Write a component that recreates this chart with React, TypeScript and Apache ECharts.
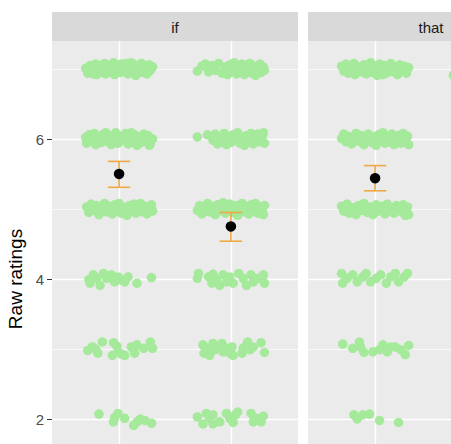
import React, { useEffect, useRef } from "react";
import * as echarts from "echarts";

// ---------- data ----------
const facetNames = ["if", "that"];
const yTickValues = [2, 4, 6];
const majorGridY = [2, 4, 6];
const minorGridY = [1, 3, 5, 7];
const categoryX = [1, 2];

// jittered raw ratings: [rating, [[xOffset, yOffset], ...]]
const ifFirstJitter: [number, number[][]][] = [
  [7, [[-0.30,0.01],[-0.28,-0.06],[-0.26,0.05],[-0.24,-0.02],[-0.21,0.07],[-0.20,-0.08],[-0.17,0.02],[-0.15,-0.04],[-0.13,0.08],[-0.12,-0.07],[-0.09,0.03],[-0.07,-0.03],[-0.05,0.09],[-0.04,-0.08],[-0.01,0.04],[0.01,-0.05],[0.02,0.07],[0.05,-0.01],[0.06,0.08],[0.08,-0.07],[0.10,0.03],[0.12,-0.04],[0.14,0.06],[0.15,-0.09],[0.18,0.01],[0.20,0.08],[0.21,-0.05],[0.23,0.04],[0.25,-0.07],[0.27,0.06],[0.28,-0.02],[0.30,0.03],[-0.18,0.05],[0.11,0.09],[-0.23,-0.07]]],
  [6, [[-0.30,0.02],[-0.29,-0.06],[-0.27,0.06],[-0.25,-0.02],[-0.22,0.08],[-0.21,-0.08],[-0.18,0.03],[-0.16,-0.05],[-0.14,0.07],[-0.11,-0.03],[-0.09,0.05],[-0.07,-0.08],[-0.05,0.01],[-0.03,0.09],[-0.01,-0.06],[0.02,0.04],[0.04,-0.02],[0.06,0.08],[0.08,-0.07],[0.10,0.02],[0.12,-0.04],[0.14,0.06],[0.16,-0.09],[0.18,0.03],[0.20,-0.05],[0.22,0.07],[0.24,-0.01],[0.26,0.05],[0.28,-0.07],[0.30,0.00],[-0.12,0.09],[0.11,0.09],[0.27,-0.09]]],
  [5, [[-0.29,0.03],[-0.27,-0.05],[-0.25,0.07],[-0.22,-0.02],[-0.20,0.05],[-0.18,-0.08],[-0.16,0.01],[-0.13,0.08],[-0.11,-0.04],[-0.09,0.04],[-0.06,-0.07],[-0.04,0.06],[-0.02,-0.01],[0.00,0.08],[0.02,-0.06],[0.04,0.02],[0.07,-0.09],[0.09,0.05],[0.11,-0.03],[0.13,0.07],[0.15,-0.06],[0.17,0.02],[0.19,0.08],[0.21,-0.04],[0.23,0.04],[0.25,-0.07],[0.27,0.01],[0.29,0.06],[0.30,-0.03],[-0.07,0.01]]],
  [4, [[-0.26,-0.06],[-0.23,0.06],[-0.27,-0.01],[-0.20,0.01],[-0.17,-0.09],[-0.14,0.08],[-0.11,0.01],[-0.07,0.06],[-0.04,-0.04],[-0.01,0.03],[0.02,-0.01],[0.05,-0.04],[0.08,0.03],[0.16,-0.06],[0.29,0.02]]],
  [3, [[-0.28,-0.02],[-0.24,0.03],[-0.19,-0.06],[-0.15,0.10],[-0.05,0.09],[-0.06,-0.09],[-0.01,-0.04],[0.05,-0.09],[0.11,0.03],[0.14,-0.06],[0.16,0.06],[0.22,0.01],[0.28,0.10],[0.30,0.01],[-0.21,0.00],[-0.02,0.04],[0.13,0.00],[0.02,-0.07]]],
  [2, [[-0.18,0.07],[-0.04,0.02],[-0.01,0.08],[0.05,0.01],[-0.05,-0.04],[0.13,-0.09],[0.19,0.00],[0.23,-0.02],[0.29,-0.06],[0.16,-0.04]]],
];

const ifSecondJitter: [number, number[][]][] = [
  [7, [[-0.30,-0.03],[-0.26,0.04],[-0.23,0.07],[-0.20,-0.04],[-0.17,0.05],[-0.14,-0.02],[-0.11,0.08],[-0.08,-0.06],[-0.05,0.03],[-0.03,-0.08],[-0.01,0.06],[0.01,-0.03],[0.03,0.09],[0.05,-0.07],[0.07,0.02],[0.09,-0.04],[0.10,0.07],[0.12,-0.08],[0.14,0.03],[0.16,-0.02],[0.17,0.08],[0.19,-0.06],[0.21,0.04],[0.22,-0.09],[0.24,0.01],[0.26,0.07],[0.27,-0.05],[0.29,0.03],[0.30,-0.02],[0.00,0.01],[0.13,0.05],[0.20,0.00],[-0.02,-0.01]]],
  [6, [[-0.30,0.03],[-0.21,0.06],[-0.16,-0.02],[-0.14,0.07],[-0.12,-0.07],[-0.10,0.02],[-0.08,-0.04],[-0.06,0.08],[-0.04,-0.08],[-0.02,0.03],[0.00,-0.05],[0.02,0.06],[0.04,-0.01],[0.06,0.09],[0.08,-0.06],[0.10,0.02],[0.12,-0.09],[0.14,0.05],[0.16,-0.03],[0.18,0.08],[0.20,-0.07],[0.22,0.01],[0.24,0.07],[0.26,-0.04],[0.28,0.04],[0.30,-0.06],[0.29,0.09],[0.07,0.00],[-0.13,0.01]]],
  [5, [[-0.30,-0.02],[-0.28,0.05],[-0.26,-0.07],[-0.24,0.02],[-0.21,0.08],[-0.19,-0.04],[-0.17,0.04],[-0.14,-0.08],[-0.12,0.06],[-0.10,-0.02],[-0.07,0.09],[-0.05,-0.06],[-0.03,0.03],[-0.01,0.07],[0.02,-0.05],[0.04,0.05],[0.06,-0.09],[0.08,0.01],[0.10,0.08],[0.12,-0.04],[0.14,0.04],[0.16,-0.07],[0.18,0.06],[0.20,-0.01],[0.22,0.08],[0.24,-0.06],[0.26,0.03],[0.28,-0.03],[0.30,0.05],[0.29,-0.08],[0.09,-0.03]]],
  [4, [[-0.29,0.08],[-0.30,0.01],[-0.20,0.03],[-0.17,-0.06],[-0.16,0.07],[-0.13,-0.01],[-0.10,-0.09],[-0.07,0.06],[-0.04,-0.04],[-0.01,0.03],[0.02,-0.06],[0.07,0.08],[0.11,0.01],[0.14,-0.09],[0.18,0.06],[0.20,-0.04],[0.24,0.01],[0.29,0.06],[0.30,-0.06]]],
  [3, [[-0.25,0.06],[-0.24,-0.06],[-0.20,0.01],[-0.19,-0.09],[-0.16,0.08],[-0.14,-0.01],[-0.11,0.03],[-0.08,0.08],[-0.07,-0.04],[-0.04,0.01],[-0.01,-0.06],[0.02,-0.09],[0.01,0.03],[0.10,-0.06],[0.11,0.01],[0.14,0.06],[0.15,0.10],[0.17,-0.01],[0.20,0.03],[0.27,0.09],[0.30,-0.05]]],
  [2, [[-0.30,0.03],[-0.25,-0.07],[-0.22,0.08],[-0.16,0.06],[-0.16,-0.07],[-0.19,0.01],[-0.10,-0.04],[-0.04,0.08],[-0.01,0.01],[0.02,-0.05],[0.06,0.10],[0.04,0.06],[0.18,0.08],[0.20,-0.04],[0.27,-0.04],[0.29,0.04],[0.23,0.01]]],
];

const thatFirstJitter: [number, number[][]][] = [
  [7, [[-0.30,0.04],[-0.28,-0.03],[-0.26,0.07],[-0.24,-0.06],[-0.22,0.01],[-0.19,0.08],[-0.18,-0.08],[-0.15,0.03],[-0.13,-0.04],[-0.10,0.06],[-0.08,-0.07],[-0.06,0.02],[-0.04,0.09],[-0.02,-0.05],[0.00,0.04],[0.02,-0.09],[0.04,0.07],[0.06,-0.02],[0.08,0.05],[0.10,-0.06],[0.12,0.02],[0.14,0.08],[0.16,-0.04],[0.18,0.03],[0.20,-0.08],[0.22,0.06],[0.24,-0.01],[0.26,0.04],[0.28,-0.06],[0.30,0.02],[-0.11,0.00],[0.07,-0.08]]],
  [6, [[-0.30,0.01],[-0.28,0.07],[-0.26,-0.04],[-0.24,0.04],[-0.21,-0.07],[-0.19,0.02],[-0.17,0.08],[-0.15,-0.03],[-0.12,0.05],[-0.10,-0.08],[-0.08,0.01],[-0.06,0.07],[-0.03,-0.05],[-0.01,0.03],[0.01,-0.09],[0.03,0.06],[0.05,-0.02],[0.07,0.09],[0.09,-0.06],[0.11,0.03],[0.13,-0.04],[0.15,0.07],[0.17,-0.08],[0.19,0.00],[0.21,0.05],[0.23,-0.06],[0.25,0.08],[0.27,-0.02],[0.29,0.04],[0.30,-0.08],[0.00,0.00]]],
  [5, [[-0.30,0.04],[-0.28,-0.03],[-0.25,0.07],[-0.23,-0.06],[-0.20,0.02],[-0.17,-0.08],[-0.15,0.05],[-0.12,-0.02],[-0.10,0.08],[-0.07,-0.05],[-0.04,0.03],[-0.02,-0.08],[0.01,0.06],[0.03,-0.03],[0.06,0.04],[0.09,-0.07],[0.11,0.07],[0.14,0.00],[0.17,-0.06],[0.19,0.05],[0.22,0.02],[0.24,-0.04],[0.27,-0.09],[0.29,0.03],[0.30,-0.08],[0.25,0.06]]],
  [4, [[-0.30,0.08],[-0.29,-0.06],[-0.25,0.01],[-0.20,0.06],[-0.16,-0.04],[-0.11,0.03],[-0.08,0.08],[-0.04,-0.04],[0.01,0.01],[0.05,0.06],[0.10,-0.06],[0.14,0.03],[0.18,0.08],[0.21,-0.04],[0.26,0.03],[0.29,0.08]]],
  [3, [[-0.29,0.07],[-0.20,0.01],[-0.14,0.10],[-0.10,-0.05],[-0.13,0.03],[-0.02,-0.04],[0.07,0.06],[0.11,-0.04],[0.14,0.03],[0.18,0.03],[0.23,-0.01],[0.27,-0.08],[0.30,0.05],[0.04,-0.01]]],
  [2, [[-0.19,0.06],[-0.16,0.00],[-0.11,0.06],[-0.05,0.07],[0.04,-0.02],[0.21,-0.05]]],
];

const thatSecondJitter: [number, number[][]][] = [
  [7, [[-0.30,-0.09],[-0.22,0.03],[-0.12,-0.04]]],
];

const ifMeans = [5.5, 4.75];
const ifLower = [5.31, 4.54];
const ifUpper = [5.68, 4.95];
const thatMeans = [5.44];
const thatLower = [5.26];
const thatUpper = [5.62];

// ---------- styles ----------
const GREEN = "#A5E99B";
const ORANGE = "#EFA844";
const PANEL_BG = "#EBEBEB";
const STRIP_BG = "#D9D9D9";
const FONT = "'Liberation Sans', Arial, Helvetica, sans-serif";

function toPoints(cat: number, rows: [number, number[][]][]) {
  const out: number[][] = [];
  rows.forEach(([r, pts]) => pts.forEach(([dx, dy]) => out.push([cat + dx, r + dy])));
  return out;
}

function gridLines() {
  const white = (w: number) => ({ color: "#FFFFFF", width: w, type: "solid" as const, opacity: 1 });
  return {
    silent: true,
    symbol: ["none", "none"],
    z: 1,
    animation: false,
    label: { show: false },
    emphasis: { disabled: true },
    data: [
      ...minorGridY.map((v) => ({ yAxis: v, lineStyle: white(0.7) })),
      ...majorGridY.map((v) => ({ yAxis: v, lineStyle: white(1.4) })),
      ...categoryX.map((v) => ({ xAxis: v, lineStyle: white(1.4) })),
    ],
  };
}

function errorBarSeries(idx: number, lower: number[], upper: number[]) {
  return {
    type: "custom",
    xAxisIndex: idx,
    yAxisIndex: idx,
    z: 3,
    silent: true,
    data: lower.map((lo, i) => [categoryX[i], lo, upper[i]]),
    encode: { x: 0, y: [1, 2] },
    renderItem: (_p: any, api: any) => {
      const x = api.value(0);
      const top = api.coord([x, api.value(2)]);
      const bot = api.coord([x, api.value(1)]);
      const half = api.size([0.1, 0])[0];
      const style = { stroke: ORANGE, lineWidth: 1.6, fill: "none" };
      return {
        type: "group",
        children: [
          { type: "line", shape: { x1: top[0], y1: top[1], x2: bot[0], y2: bot[1] }, style },
          { type: "line", shape: { x1: top[0] - half, y1: top[1], x2: top[0] + half, y2: top[1] }, style },
          { type: "line", shape: { x1: bot[0] - half, y1: bot[1], x2: bot[0] + half, y2: bot[1] }, style },
        ],
      };
    },
  };
}

export default function App() {
  const ref = useRef<HTMLDivElement>(null);
  useEffect(() => {
    if (!ref.current) return;
    const chart = echarts.init(ref.current, null, { renderer: "svg" });
    const panelLeft = [52, 308];
    const panelWidth = 246;
    const grids = panelLeft.map((l) => ({
      left: l,
      top: 41,
      width: panelWidth,
      height: 476,
      show: true,
      backgroundColor: PANEL_BG,
      borderWidth: 0,
      containLabel: false,
      outerBoundsMode: "none",
    }));
    const xAxes = panelLeft.map((_, i) => ({
      type: "value",
      gridIndex: i,
      min: 0.4,
      max: 2.6,
      show: false,
      splitLine: { show: false },
    }));
    const yAxes = panelLeft.map((_, i) => ({
      type: "value",
      gridIndex: i,
      min: 0.6,
      max: 7.4,
      show: i === 0,
      axisLine: { show: false },
      axisTick: { show: true, length: 5, customValues: yTickValues, lineStyle: { color: "#333333", width: 1 } },
      axisLabel: { show: true, customValues: yTickValues, color: "#4D4D4D", fontSize: 15, margin: 8, fontFamily: FONT },
      splitLine: { show: false },
      name: i === 0 ? "Raw ratings" : "",
      nameLocation: "middle",
      nameGap: 24,
      nameTextStyle: { fontSize: 19, color: "#000000", fontFamily: FONT },
    }));

    const scatterBase = { type: "scatter", symbol: "circle", symbolSize: 9.5, silent: true, itemStyle: { color: GREEN, opacity: 1 }, z: 2 };
    const meanBase = { type: "scatter", symbol: "circle", symbolSize: 10.5, silent: true, z: 4, itemStyle: { color: "#000000", opacity: 1 } };

    const series: any[] = [
      { ...scatterBase, xAxisIndex: 0, yAxisIndex: 0, data: [...toPoints(1, ifFirstJitter), ...toPoints(2, ifSecondJitter)], markLine: gridLines() },
      { ...scatterBase, xAxisIndex: 1, yAxisIndex: 1, data: [...toPoints(1, thatFirstJitter), ...toPoints(2, thatSecondJitter)], markLine: gridLines() },
      errorBarSeries(0, ifLower, ifUpper),
      errorBarSeries(1, thatLower, thatUpper),
      { ...meanBase, xAxisIndex: 0, yAxisIndex: 0, data: ifMeans.map((m, i) => [categoryX[i], m]) },
      { ...meanBase, xAxisIndex: 1, yAxisIndex: 1, data: thatMeans.map((m, i) => [categoryX[i], m]) },
    ];

    chart.setOption({
      animation: false,
      textStyle: { fontFamily: FONT },
      grid: grids,
      xAxis: xAxes,
      yAxis: yAxes,
      series,
      graphic: [
        ...panelLeft.map((l, i) => ({
          type: "group",
          children: [
            { type: "rect", shape: { x: l, y: 12, width: panelWidth, height: 29 }, style: { fill: STRIP_BG } },
            {
              type: "text",
              x: l + panelWidth / 2,
              y: 27,
              style: { text: facetNames[i], fill: "#1A1A1A", fontSize: 15, fontFamily: FONT, align: "center", verticalAlign: "middle" },
            },
          ],
        })),
      ],
    });
    return () => chart.dispose();
  }, []);
  return <div ref={ref} style={{ position: "absolute", left: 0, top: 0, width: 451, height: 444 }} />;
}
